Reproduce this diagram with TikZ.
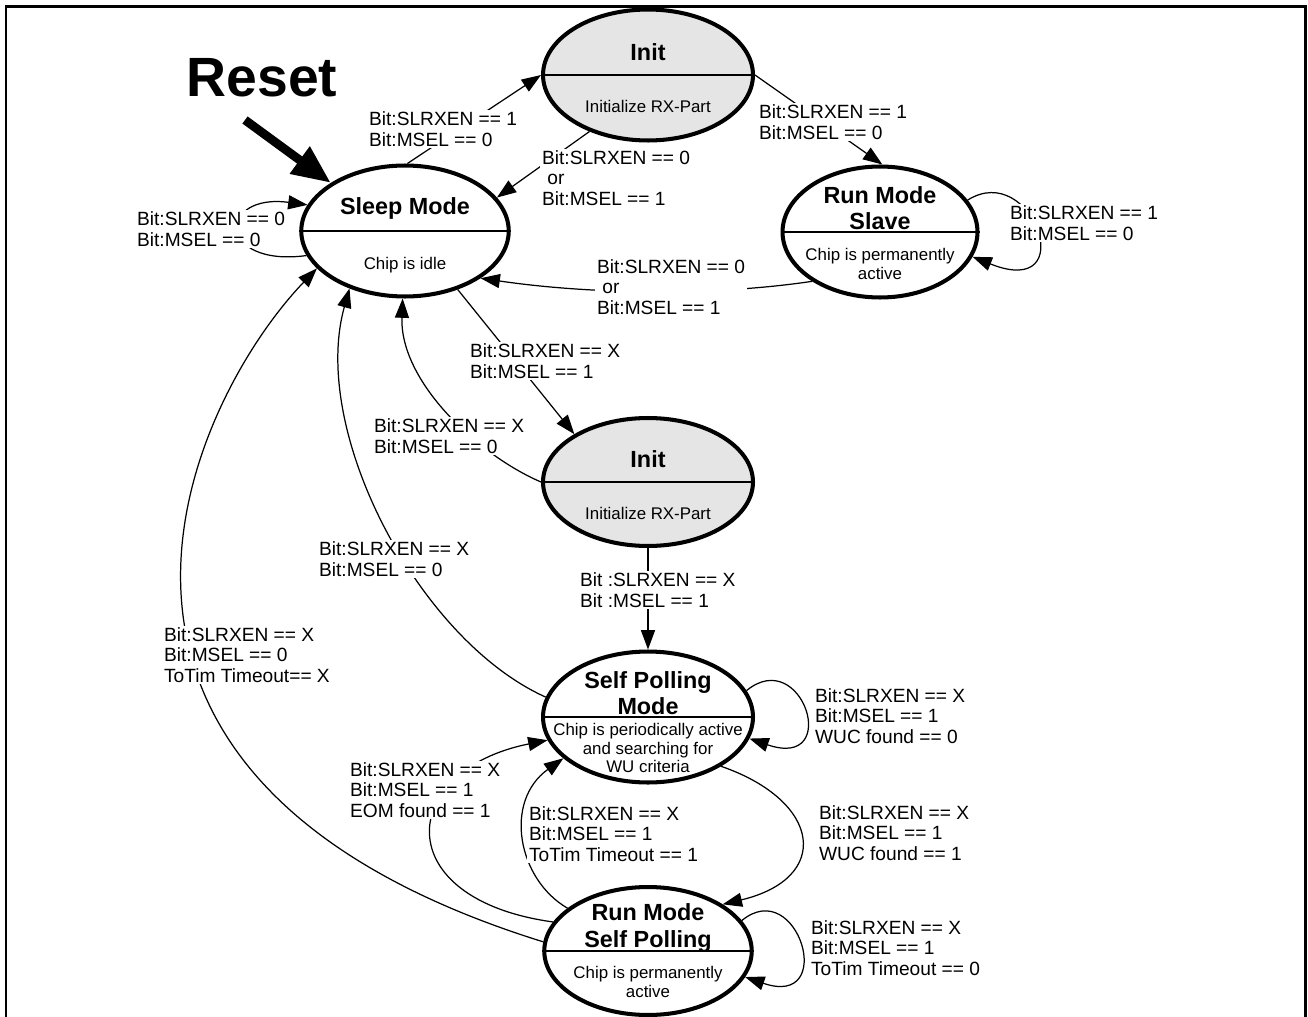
\documentclass[tikz,border=0pt]{standalone}
\usepackage{fontspec}
\setmainfont{Liberation Sans}
\usetikzlibrary{shapes.geometric, arrows.meta, positioning, calc}

\begin{document}
\begin{tikzpicture}[x=0.02cm, y=-0.02cm,
    modebox/.style={ellipse, draw, line width=2.3pt, fill=white, minimum width=4.15cm, minimum height=2.62cm, inner sep=0pt},
    initbox/.style={modebox, fill=gray!20, minimum width=4.2cm},
    modetitle/.style={font=\fontsize{13.3}{15}\selectfont\bfseries, align=center, inner sep=0pt},
    modetext/.style={font=\fontsize{9.6}{10.6}\selectfont, align=center, inner sep=0pt},
    cond/.style={font=\fontsize{10.9}{11.7}\selectfont, align=left, fill=white, inner sep=1pt, anchor=west},
    transition/.style={-{Triangle[length=11pt, width=8pt]}, line width=0.7pt},
    divider/.style={line width=0.8pt}]
    \useasboundingbox (0,0) rectangle (1308,1017);
    \draw[line width=1.7pt] (6,1017) -- (6,6.5) -- (1305.5,6.5) -- (1305.5,1017);

    % states
    \node[initbox] (inittop) at (648,75) {};
    \node[modebox] (sleep) at (405,231) {};
    \node[modebox, minimum width=3.9cm] (slave) at (880,232) {};
    \node[initbox, minimum height=2.56cm] (initmid) at (648,482) {};
    \node[modebox, minimum width=4.2cm] (selfpoll) at (648,717) {};
    \node[modebox, minimum height=2.56cm] (runpoll) at (648,951) {};
    \foreach \s in {inittop, sleep, slave, initmid, selfpoll, runpoll}
        \draw[divider] (\s.west) -- (\s.east);

    \node[modetitle] (inittoptitle) at ($(inittop)+(0,-23)$) {Init};
    \node[modetext] (inittoptext) at ($(inittop)+(0,31)$) {Initialize RX-Part};
    \node[modetitle] (sleeptitle) at ($(sleep)+(0,-23)$) {Sleep Mode};
    \node[modetext] (sleeptext) at ($(sleep)+(0,34)$) {Chip is idle};
    \node[modetitle] (slavetitle) at ($(slave)+(0,-24)$) {Run Mode\\Slave};
    \node[modetext] (slavetext) at ($(slave)+(0,32)$) {Chip is permanently\\active};
    \node[modetitle] (initmidtitle) at ($(initmid)+(0,-23)$) {Init};
    \node[modetext] (initmidtext) at ($(initmid)+(0,31)$) {Initialize RX-Part};
    \node[modetitle] (selfpolltitle) at ($(selfpoll)+(0,-24)$) {Self Polling\\Mode};
    \node[modetext] (selfpolltext) at ($(selfpoll)+(0,31)$) {Chip is periodically active\\and searching for\\WU criteria};
    \node[modetitle] (runpolltitle) at ($(runpoll)+(0,-23)$) {Run Mode\\Self Polling};
    \node[modetext] (runpolltext) at ($(runpoll)+(0,31)$) {Chip is permanently\\active};

    % reset
    \node[font=\fontsize{31.5}{31.5}\selectfont\bfseries, inner sep=0pt] (reset) at (262,78) {Reset};
    \coordinate (resettail) at (245,120);
    \draw[line width=5pt, -{Triangle[length=22pt, width=18pt]}] (resettail) -- (sleep.147);

    % transitions
    \draw[transition] (sleep.88) -- (inittop.west);
    \draw[transition] (inittop.224) -- (sleep.20);
    \draw[transition] (inittop.east) -- (slave.88);
    \draw[transition] (slave.20) .. controls +(65,-41) and +(110,44) .. (slave.-15);
    \draw[transition] (slave.216) .. controls +(-101,15) and +(109,16) .. (sleep.-32);
    \draw[transition] (sleep.194) .. controls +(-90,12) and +(-90,-12) .. (sleep.165);
    \draw[transition] (sleep.-48) -- (initmid.147);
    \draw[transition] (initmid.west) .. controls +(-63,-27) and +(-3,83) .. (sleep.268);
    \draw[transition] (selfpoll.169) .. controls +(-127,-57) and +(-40,143) .. (sleep.226);
    \draw[transition] (runpoll.175) .. controls +(-537,-167) and +(-123,128) .. (sleep.203);
    \draw[transition] (initmid.south) -- (selfpoll.north);
    \draw[transition] (selfpoll.15) .. controls +(56,-46) and +(93,32) .. (selfpoll.-12);
    \draw[transition] (runpoll.18) .. controls +(56,-46) and +(93,32) .. (runpoll.-15);
    \draw[transition] (selfpoll.-34) .. controls +(101,35) and +(109,-26) .. (runpoll.32);
    \draw[transition] (runpoll.152) .. controls +(-50,-29) and +(-60,43) .. (selfpoll.206);
    \draw[transition] (runpoll.163) .. controls +(-166,-23) and +(-150,30) .. (selfpoll.193);

    % conditions
    \node[cond] (c-sleep-inittop) at (367,129) {Bit:SLRXEN == 1\\Bit:MSEL == 0};
    \node[cond] (c-inittop-sleep) at (540,178) {Bit:SLRXEN == 0\\\ or\\Bit:MSEL == 1};
    \node[cond] (c-inittop-slave) at (757,122) {Bit:SLRXEN == 1\\Bit:MSEL == 0};
    \node[cond] (c-slave-loop) at (1008,223) {Bit:SLRXEN == 1\\Bit:MSEL == 0};
    \node[cond] (c-slave-sleep) at (595,287) {Bit:SLRXEN == 0\\\ or\\Bit:MSEL == 1};
    \node[cond] (c-sleep-loop) at (135,229) {Bit:SLRXEN == 0\\Bit:MSEL == 0};
    \node[cond] (c-sleep-initmid) at (468,361) {Bit:SLRXEN == X\\Bit:MSEL == 1};
    \node[cond] (c-initmid-sleep) at (372,436) {Bit:SLRXEN == X\\Bit:MSEL == 0};
    \node[cond] (c-selfpoll-sleep) at (317,559) {Bit:SLRXEN == X\\Bit:MSEL == 0};
    \node[cond] (c-runpoll-sleep) at (162,655) {Bit:SLRXEN == X\\Bit:MSEL == 0\\ToTim Timeout== X};
    \node[cond] (c-initmid-selfpoll) at (578,590) {Bit :SLRXEN == X\\Bit :MSEL == 1};
    \node[cond] (c-selfpoll-loop) at (813,716) {Bit:SLRXEN == X\\Bit:MSEL == 1\\WUC found == 0};
    \node[cond] (c-eom) at (348,790) {Bit:SLRXEN == X\\Bit:MSEL == 1\\EOM found == 1};
    \node[cond] (c-totim) at (527,834) {Bit:SLRXEN == X\\Bit:MSEL == 1\\ToTim Timeout == 1};
    \node[cond] (c-wuc) at (817,833) {Bit:SLRXEN == X\\Bit:MSEL == 1\\WUC found == 1};
    \node[cond] (c-runpoll-loop) at (809,948) {Bit:SLRXEN == X\\Bit:MSEL == 1\\ToTim Timeout == 0};
\end{tikzpicture}
\end{document}
